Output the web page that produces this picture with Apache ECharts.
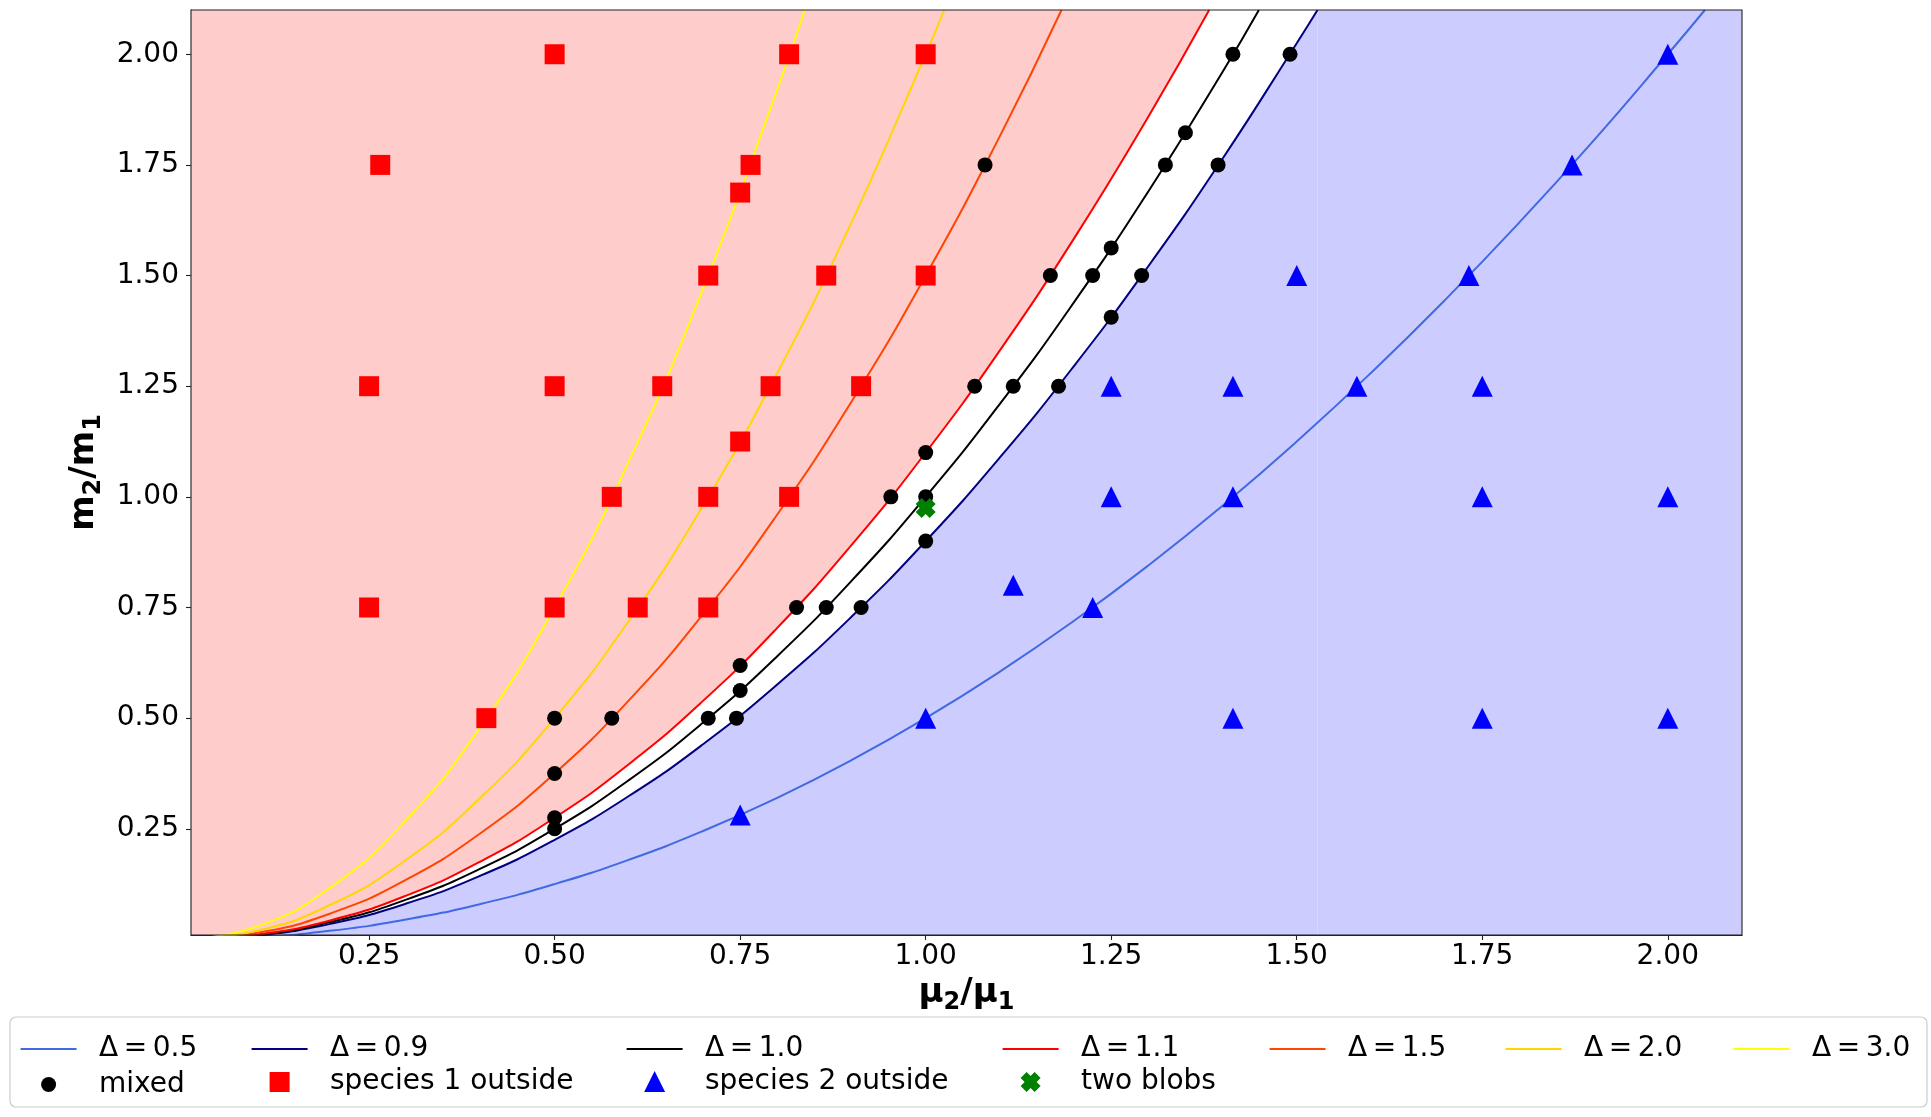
<!DOCTYPE html>
<html><head><meta charset="utf-8">
<script src="https://cdn.jsdelivr.net/npm/echarts@6/dist/echarts.min.js"></script>
<style>html,body{margin:0;padding:0;background:#fff}#c{width:1931px;height:1117px}</style>
</head><body><div id="c"></div>
<script>
// ---- data ----
const curveD05 = [[0,0],[0.1,0.005],[0.2,0.02],[0.3,0.045],[0.4,0.08],[0.5,0.125],[0.6,0.18],[0.7,0.245],[0.8,0.32],[0.9,0.405],[1.0,0.5],[1.1,0.605],[1.2,0.72],[1.3,0.845],[1.4,0.98],[1.5,1.125],[1.6,1.28],[1.7,1.445],[1.8,1.62],[1.9,1.805],[2.0,2.0],[2.05,2.1]];
const curveD09 = [[0,0],[0.1,0.009],[0.2,0.036],[0.3,0.081],[0.4,0.144],[0.5,0.225],[0.6,0.324],[0.7,0.441],[0.8,0.576],[0.9,0.729],[1.0,0.9],[1.1,1.089],[1.2,1.296],[1.3,1.521],[1.4,1.764],[1.5,2.025],[1.528,2.1]];
const curveD10 = [[0,0],[0.1,0.01],[0.2,0.04],[0.3,0.09],[0.4,0.16],[0.5,0.25],[0.6,0.36],[0.7,0.49],[0.8,0.64],[0.9,0.81],[1.0,1.0],[1.1,1.21],[1.2,1.44],[1.3,1.69],[1.4,1.96],[1.449,2.1]];
const curveD11 = [[0,0],[0.1,0.011],[0.2,0.044],[0.3,0.099],[0.4,0.176],[0.5,0.275],[0.6,0.396],[0.7,0.539],[0.8,0.704],[0.9,0.891],[1.0,1.1],[1.1,1.331],[1.2,1.584],[1.3,1.859],[1.382,2.1]];
const curveD15 = [[0,0],[0.1,0.015],[0.2,0.06],[0.3,0.135],[0.4,0.24],[0.5,0.375],[0.6,0.54],[0.7,0.735],[0.8,0.96],[0.9,1.215],[1.0,1.5],[1.1,1.815],[1.183,2.1]];
const curveD20 = [[0,0],[0.1,0.02],[0.2,0.08],[0.3,0.18],[0.4,0.32],[0.5,0.5],[0.6,0.72],[0.7,0.98],[0.8,1.28],[0.9,1.62],[1.0,2.0],[1.025,2.1]];
const curveD30 = [[0,0],[0.1,0.03],[0.2,0.12],[0.3,0.27],[0.4,0.48],[0.5,0.75],[0.6,1.08],[0.7,1.47],[0.8,1.92],[0.837,2.1]];

const mixed = [[1.414,2.0],[1.491,2.0],[1.35,1.8225],[1.323,1.75],[1.394,1.75],[1.08,1.75],[1.25,1.5625],[1.168,1.5],[1.225,1.5],[1.291,1.5],[1.25,1.406],[1.066,1.25],[1.118,1.25],[1.179,1.25],[1.0,1.1],[1.0,1.0],[0.953,1.0],[1.0,0.9],[0.826,0.75],[0.866,0.75],[0.913,0.75],[0.75,0.619],[0.75,0.5625],[0.707,0.5],[0.745,0.5],[0.577,0.5],[0.5,0.5],[0.5,0.375],[0.5,0.275],[0.5,0.25]];
const species1 = [[0.5,2.0],[0.816,2.0],[1.0,2.0],[0.265,1.75],[0.764,1.75],[0.75,1.6875],[0.707,1.5],[0.866,1.5],[1.0,1.5],[0.25,1.25],[0.5,1.25],[0.645,1.25],[0.791,1.25],[0.913,1.25],[0.75,1.125],[0.577,1.0],[0.707,1.0],[0.816,1.0],[0.25,0.75],[0.5,0.75],[0.612,0.75],[0.707,0.75],[0.408,0.5]];
const species2 = [[2.0,2.0],[1.871,1.75],[1.5,1.5],[1.732,1.5],[1.25,1.25],[1.414,1.25],[1.581,1.25],[1.75,1.25],[1.25,1.0],[1.414,1.0],[1.75,1.0],[2.0,1.0],[1.118,0.8],[1.225,0.75],[1.0,0.5],[1.414,0.5],[1.75,0.5],[2.0,0.5],[0.75,0.281]];
const twoBlobs = [[1.0,0.975]];

const tickValues = [0.25,0.5,0.75,1.0,1.25,1.5,1.75,2.0];
const axisMin = 0.01, axisMax = 2.1;

// ---- chart ----
const FONT = 'DejaVu Sans';
const X_PATH = 'path://M3,0L5,2L7,0L10,3L8,5L10,7L7,10L5,8L3,10L0,7L2,5L0,3Z';

const curves = [
  {name:'Δ = 0.5', data:curveD05, color:'#4169e1'},
  {name:'Δ = 0.9', data:curveD09, color:'#000080'},
  {name:'Δ = 1.0', data:curveD10, color:'#000000'},
  {name:'Δ = 1.1', data:curveD11, color:'#ff0000'},
  {name:'Δ = 1.5', data:curveD15, color:'#ff4500'},
  {name:'Δ = 2.0', data:curveD20, color:'#ffd700'},
  {name:'Δ = 3.0', data:curveD30, color:'#ffff00'}
];
const markers = [
  {name:'mixed', data:mixed, color:'#000000', symbol:'circle', size:15},
  {name:'species 1 outside', data:species1, color:'#ff0000', symbol:'rect', size:20},
  {name:'species 2 outside', data:species2, color:'#0000ff', symbol:'triangle', size:21},
  {name:'two blobs', data:twoBlobs, color:'#008000', symbol:X_PATH, size:20}
];

const lastD09 = curveD09[curveD09.length - 1];
const series = [];
series.push({name:'fill-above', type:'line', data:curveD11, smooth:true, symbol:'none', silent:true,
  lineStyle:{width:0, opacity:0}, areaStyle:{color:'#ffcccc', opacity:1, origin:'end'}, z:1});
series.push({name:'fill-below', type:'line', data:curveD09, smooth:true, symbol:'none', silent:true,
  lineStyle:{width:0, opacity:0}, areaStyle:{color:'#ccccff', opacity:1, origin:'start'}, z:1});
series.push({name:'fill-below-right', type:'line', data:[[lastD09[0], axisMax],[axisMax, axisMax]], symbol:'none', silent:true,
  lineStyle:{width:0, opacity:0}, areaStyle:{color:'#ccccff', opacity:1, origin:'start'}, z:1});
curves.forEach(c => series.push({name:c.name, type:'line', data:c.data, smooth:true, symbol:'none', showSymbol:false,
  color:c.color, lineStyle:{color:c.color, width:2}, z:3}));
markers.forEach(m => series.push({name:m.name, type:'scatter', data:m.data, symbol:m.symbol, symbolSize:m.size,
  itemStyle:{color:m.color, opacity:1}, z:5}));

// legends: one component per entry to reproduce matplotlib's column layout
const colTextX = [99, 330, 705, 1081, 1348, 1584, 1812];
const row1Y = 1036, row2Y = 1078;
const legendText = {fontFamily:FONT, fontSize:28, color:'#000'};
const legends = [];
curves.forEach((c, i) => {
  const left = colTextX[i] - 78.4;
  legends.push({data:[{name:c.name, icon:'rect'}], left:left, top:row1Y - 1, padding:0, itemWidth:56, itemHeight:2,
    selectedMode:false, formatter:n => n.replace(/ /g, '\u2009'),
    textStyle:Object.assign({}, legendText, {padding:[0,0,0,17.4]}), z:6});
});
markers.forEach((m, i) => {
  const cx = colTextX[i] - 50.4;
  const w = m.size;
  const left = cx - w/2;
  const pad = colTextX[i] - (left + w + 5);
  legends.push({data:[{name:m.name, icon:m.symbol}], left:left, top:row2Y - w/2, padding:0, itemWidth:w, itemHeight:w,
    selectedMode:false, textStyle:Object.assign({}, legendText, {padding:[0,0,0,pad]}), z:6});
});

const richName = {
  b:{fontFamily:FONT, fontWeight:'bold', fontSize:34, lineHeight:34, verticalAlign:'top', color:'#000'},
  s:{fontFamily:FONT, fontWeight:'bold', fontSize:24, lineHeight:24, padding:[15,0,0,0], verticalAlign:'top', color:'#000'}
};
const axisCommon = {
  type:'value', min:axisMin, max:axisMax,
  axisLine:{show:true, lineStyle:{color:'#222', width:1.1}},
  axisTick:{show:true, customValues:tickValues, length:5, lineStyle:{color:'#222', width:1.1}},
  axisLabel:{customValues:tickValues, formatter:v => v.toFixed(2), fontFamily:FONT, fontSize:28, color:'#000'},
  splitLine:{show:false},
  nameLocation:'middle',
  nameTextStyle:{fontFamily:FONT, fontWeight:'bold', fontSize:34, color:'#000', rich:richName}
};

const chart = echarts.init(document.getElementById('c'), null, {renderer:'canvas'});
chart.setOption({
  animation:false,
  backgroundColor:'#ffffff',
  grid:{left:191, right:189, top:10, bottom:182, show:true, borderColor:'#222', borderWidth:1.1, backgroundColor:'transparent', z:10},
  xAxis:Object.assign({}, axisCommon, {name:'{b|μ}{s|2}{b|/μ}{s|1}', nameGap:41, axisLabel:Object.assign({}, axisCommon.axisLabel, {margin:8})}),
  yAxis:Object.assign({}, axisCommon, {name:'{b|m}{s|2}{b|/m}{s|1}', nameGap:79, axisLabel:Object.assign({}, axisCommon.axisLabel, {margin:12})}),
  legend:legends,
  graphic:[{type:'rect', z:0, silent:true, shape:{x:10, y:1017, width:1917, height:90, r:6},
    style:{fill:'#ffffff', stroke:'#cccccc', lineWidth:1.2}}],
  series:series
});
</script></body></html>
